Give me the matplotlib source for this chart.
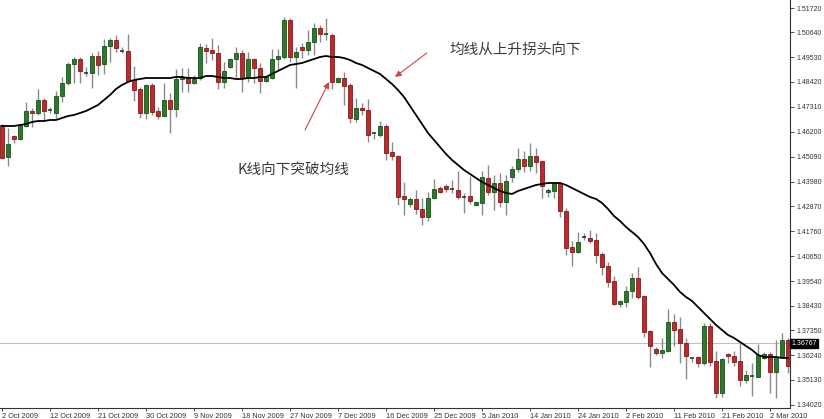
import numpy as np
import matplotlib
matplotlib.use("Agg")
import matplotlib.pyplot as plt

plt.rcParams['font.family'] = ['Liberation Sans', 'DejaVu Sans']

# daily EURUSD candles, 2 Oct 2009 - early Mar 2010
opens = [1.46502, 1.45075, 1.46011, 1.45878, 1.46457, 1.47126, 1.47037, 1.47617, 1.47182, 1.47037,
         1.47795, 1.48375, 1.49223, 1.49446, 1.48830, 1.48821, 1.49579, 1.49223, 1.50025, 1.50293,
         1.49810, 1.49802, 1.48509, 1.48108, 1.47037, 1.48286, 1.47126, 1.46903, 1.47617, 1.47216,
         1.48554, 1.48643, 1.48375, 1.48598, 1.49936, 1.49847, 1.49713, 1.48420, 1.49089, 1.49446,
         1.49713, 1.48643, 1.49446, 1.49044, 1.48464, 1.48598, 1.49446, 1.49535, 1.51185, 1.49535,
         1.49981, 1.49847, 1.50204, 1.50828, 1.50570, 1.50516, 1.48420, 1.48598, 1.48286, 1.46770,
         1.47260, 1.47171, 1.46150, 1.46056, 1.46457, 1.45298, 1.45119, 1.43335, 1.42979, 1.43202,
         1.42756, 1.42399, 1.43246, 1.43692, 1.43781, 1.43650, 1.43603, 1.43295, 1.43335, 1.42934,
         1.43023, 1.44138, 1.43514, 1.43915, 1.43068, 1.44183, 1.44540, 1.44986, 1.44673, 1.45119,
         1.44896, 1.43514, 1.43558, 1.43915, 1.42666, 1.41061, 1.40838, 1.41510, 1.41462, 1.41373,
         1.40749, 1.40213, 1.39545, 1.38519, 1.38608, 1.39099, 1.39678, 1.38876, 1.37315, 1.36512,
         1.36333, 1.36423, 1.37716, 1.37404, 1.36779, 1.36115, 1.36155, 1.35887, 1.37537, 1.35976,
         1.34549, 1.36289, 1.36199, 1.35976, 1.35129, 1.35312, 1.35263, 1.36110, 1.36289, 1.35486,
         1.36155, 1.36913]
highs = [1.46547, 1.46368, 1.46056, 1.46547, 1.47528, 1.47260, 1.48108, 1.47706, 1.47305, 1.48018,
         1.48643, 1.49312, 1.49535, 1.49535, 1.49089, 1.49713, 1.49802, 1.50338, 1.50382, 1.50516,
         1.49981, 1.50561, 1.49133, 1.48197, 1.48331, 1.48375, 1.47305, 1.48375, 1.47929, 1.49000,
         1.49044, 1.49044, 1.48732, 1.50159, 1.50115, 1.50382, 1.50070, 1.49312, 1.49490, 1.49981,
         1.49847, 1.49758, 1.49490, 1.49267, 1.48687, 1.49892, 1.49892, 1.51319, 1.51274, 1.49981,
         1.50159, 1.50739, 1.51051, 1.50962, 1.51274, 1.50605, 1.48643, 1.48866, 1.48375, 1.47706,
         1.47483, 1.47662, 1.46190, 1.46680, 1.46547, 1.45744, 1.45164, 1.43960, 1.43291, 1.43603,
         1.43246, 1.43514, 1.44094, 1.43781, 1.43871, 1.44049, 1.44451, 1.43469, 1.44227, 1.43112,
         1.44451, 1.44718, 1.44272, 1.44361, 1.44272, 1.44673, 1.45476, 1.45343, 1.45699, 1.45476,
         1.44941, 1.43692, 1.43960, 1.43960, 1.42800, 1.41328, 1.41730, 1.41685, 1.41819, 1.41685,
         1.40838, 1.40392, 1.39767, 1.38697, 1.39321, 1.39901, 1.40169, 1.38920, 1.37359, 1.36601,
         1.37003, 1.38296, 1.38073, 1.37939, 1.37003, 1.36155, 1.36199, 1.37671, 1.37671, 1.36423,
         1.36110, 1.36333, 1.36423, 1.36779, 1.35575, 1.35887, 1.36735, 1.36378, 1.36378, 1.36913,
         1.37226, 1.37003]
lows = [1.44986, 1.44673, 1.45699, 1.45833, 1.46413, 1.46413, 1.46948, 1.46725, 1.47037, 1.46814,
        1.47528, 1.48286, 1.48375, 1.48375, 1.48687, 1.48152, 1.48732, 1.48777, 1.49312, 1.49758,
        1.49713, 1.48420, 1.47572, 1.46814, 1.46770, 1.46948, 1.46770, 1.46859, 1.46145, 1.46859,
        1.47974, 1.47974, 1.48331, 1.48509, 1.49267, 1.49401, 1.48108, 1.48152, 1.49044, 1.48643,
        1.47974, 1.48420, 1.48375, 1.47929, 1.48420, 1.48554, 1.48955, 1.49446, 1.49312, 1.48152,
        1.49490, 1.49624, 1.49624, 1.50204, 1.50293, 1.48108, 1.48375, 1.47394, 1.46591, 1.46636,
        1.46948, 1.45744, 1.45878, 1.45967, 1.44941, 1.44941, 1.42934, 1.42488, 1.42845, 1.42533,
        1.42042, 1.42220, 1.43202, 1.43469, 1.43514, 1.43469, 1.43202, 1.42577, 1.42979, 1.42890,
        1.42488, 1.43380, 1.42711, 1.42845, 1.42488, 1.43960, 1.44406, 1.44406, 1.44451, 1.44361,
        1.43246, 1.43291, 1.43246, 1.42399, 1.40704, 1.40213, 1.40793, 1.41373, 1.41239, 1.40347,
        1.39812, 1.39277, 1.38474, 1.38385, 1.38385, 1.38786, 1.38742, 1.37047, 1.35709, 1.36244,
        1.36110, 1.36378, 1.36646, 1.35887, 1.35174, 1.35932, 1.35709, 1.35798, 1.35753, 1.34326,
        1.34371, 1.35887, 1.35753, 1.34861, 1.34995, 1.34415, 1.35263, 1.36066, 1.34549, 1.34326,
        1.36110, 1.35441]
closes = [1.45030, 1.45655, 1.45878, 1.46502, 1.47126, 1.47037, 1.47617, 1.47126, 1.47171, 1.47795,
          1.48375, 1.49223, 1.49446, 1.48911, 1.48821, 1.49579, 1.49178, 1.50025, 1.50293, 1.49936,
          1.49802, 1.48464, 1.48063, 1.47037, 1.48286, 1.47082, 1.46903, 1.47617, 1.47216, 1.48554,
          1.48643, 1.48375, 1.48554, 1.49981, 1.49802, 1.49713, 1.48420, 1.48911, 1.49446, 1.49713,
          1.48643, 1.49446, 1.49044, 1.48464, 1.48643, 1.49446, 1.49579, 1.51185, 1.49535, 1.49758,
          1.49847, 1.50204, 1.50828, 1.50561, 1.50561, 1.48420, 1.48598, 1.48241, 1.46814, 1.47260,
          1.47171, 1.46056, 1.46145, 1.46457, 1.45253, 1.45119, 1.43291, 1.43202, 1.43202, 1.42756,
          1.42399, 1.43246, 1.43648, 1.43514, 1.43648, 1.43648, 1.43291, 1.43291, 1.43112, 1.43068,
          1.44183, 1.43514, 1.43915, 1.43068, 1.44004, 1.44540, 1.44986, 1.44673, 1.45119, 1.44852,
          1.43781, 1.43603, 1.43915, 1.42666, 1.41016, 1.40838, 1.41284, 1.41507, 1.41328, 1.40704,
          1.40169, 1.39500, 1.38519, 1.38652, 1.39099, 1.39678, 1.38831, 1.37270, 1.36646, 1.36333,
          1.36467, 1.37716, 1.37359, 1.36779, 1.36199, 1.36110, 1.35887, 1.37537, 1.35932, 1.34549,
          1.36066, 1.36199, 1.35932, 1.35129, 1.35352, 1.35307, 1.36244, 1.36289, 1.35486, 1.36155,
          1.36913, 1.35753]
# moving average line as drawn on the chart
ma = [1.46457, 1.46457, 1.46457, 1.46502, 1.46547, 1.46636, 1.46680, 1.46680, 1.46725, 1.46725,
      1.46814, 1.46903, 1.46948, 1.47037, 1.47126, 1.47260, 1.47394, 1.47617, 1.47840, 1.48108,
      1.48286, 1.48420, 1.48509, 1.48554, 1.48598, 1.48598, 1.48598, 1.48598, 1.48598, 1.48643,
      1.48643, 1.48598, 1.48598, 1.48598, 1.48687, 1.48687, 1.48643, 1.48598, 1.48598, 1.48554,
      1.48554, 1.48598, 1.48598, 1.48643, 1.48643, 1.48777, 1.48911, 1.49044, 1.49178, 1.49223,
      1.49267, 1.49356, 1.49446, 1.49535, 1.49579, 1.49535, 1.49535, 1.49490, 1.49401, 1.49267,
      1.49178, 1.49044, 1.48911, 1.48777, 1.48554, 1.48331, 1.48063, 1.47751, 1.47349, 1.46948,
      1.46547, 1.46145, 1.45833, 1.45521, 1.45209, 1.44941, 1.44718, 1.44495, 1.44317, 1.44138,
      1.43960, 1.43826, 1.43692, 1.43558, 1.43469, 1.43425, 1.43558, 1.43648, 1.43737, 1.43826,
      1.43871, 1.43915, 1.43915, 1.43915, 1.43826, 1.43692, 1.43558, 1.43425, 1.43291, 1.43202,
      1.43023, 1.42756, 1.42443, 1.42220, 1.41953, 1.41730, 1.41507, 1.41195, 1.40793, 1.40303,
      1.39901, 1.39634, 1.39367, 1.39054, 1.38831, 1.38652, 1.38385, 1.38117, 1.37850, 1.37582,
      1.37359, 1.37136, 1.37003, 1.36824, 1.36646, 1.36467, 1.36244, 1.36155, 1.36155, 1.36155,
      1.36110, 1.36110]

date_labels = ["2 Oct 2009", "12 Oct 2009", "21 Oct 2009", "30 Oct 2009", "9 Nov 2009",
               "18 Nov 2009", "27 Nov 2009", "7 Dec 2009", "16 Dec 2009", "25 Dec 2009",
               "5 Jan 2010", "14 Jan 2010", "24 Jan 2010", "2 Feb 2010", "11 Feb 2010",
               "21 Feb 2010", "2 Mar 2010"]
price_ticks = [1.51720, 1.50640, 1.49530, 1.48420, 1.47310, 1.46200, 1.45090, 1.43980, 1.42870,
               1.41760, 1.40650, 1.39540, 1.38430, 1.37350, 1.36240, 1.35130, 1.34020]
last_price = 1.36767

o = np.array(opens)
h = np.array(highs)
l = np.array(lows)
c = np.array(closes)
x = np.arange(len(o))

fig = plt.figure(figsize=(8.24, 4.19), dpi=100)
ax = fig.add_axes([0.0, 0.0263, 790 / 824, 1 - 0.0263])

up_col, up_edge = '#2a7a2a', '#1c4f1c'
dn_col, dn_edge = '#c4262c', '#7c1c1c'

# wicks
ax.vlines(x, l, h, color='#8a8a8a', linewidth=1.0, zorder=2)

# bodies
for i in range(len(x)):
    lo_b = min(o[i], c[i])
    hi_b = max(o[i], c[i])
    if hi_b - lo_b < 0.0002:
        ax.hlines(c[i], x[i] - 0.33, x[i] + 0.33, color='#333333', linewidth=1.2, zorder=3)
        continue
    if c[i] >= o[i]:
        fc, ec = up_col, up_edge
    else:
        fc, ec = dn_col, dn_edge
    ax.bar(x[i], hi_b - lo_b, bottom=lo_b, width=0.66, color=fc, edgecolor=ec,
           linewidth=0.6, zorder=3)

# moving average
ax.plot(x, ma, color='black', linewidth=1.3, zorder=4)

# bid line
ax.axhline(last_price, color='#c0c0c0', linewidth=0.8, zorder=1)

ax.set_xlim(-0.33, 131.33)
ax.set_ylim(1.33880, 1.52077)

# axes look like MT4
for s in ['left', 'top']:
    ax.spines[s].set_visible(False)
ax.spines['right'].set_color('#333333')
ax.spines['bottom'].set_color('#333333')

ax.yaxis.tick_right()
ax.set_yticks(price_ticks)
ax.set_yticklabels([f"{v:.5f}" for v in price_ticks])
ax.tick_params(axis='y', direction='out', length=3, width=0.6, pad=2,
               labelsize=5, colors='#333333')

ax.set_xticks(np.arange(len(date_labels)) * 8)
ax.set_xticklabels(date_labels)
ax.tick_params(axis='x', direction='out', length=2.5, width=0.6, pad=1,
               labelsize=5.3, colors='#333333')
for lbl in ax.get_xticklabels():
    lbl.set_horizontalalignment('left')

# current price box
ax.text(1.0015, last_price, f"{last_price:.5f}", transform=ax.get_yaxis_transform(),
        ha='left', va='center', fontsize=5, color='white', zorder=6,
        bbox=dict(boxstyle='square,pad=0.15', fc='black', ec='black'), clip_on=False)

# annotations
cjk = ['Noto Sans CJK SC', 'DejaVu Sans']
ax.text(74.6, 1.49847, "均线从上升拐头向下", family=cjk, fontsize=10.5,
        color='#3a3a3a', va='center', ha='left')
ax.text(39.2, 1.44495, "K线向下突破均线", family=cjk, fontsize=10.5,
        color='#3a3a3a', va='center', ha='left')
ax.annotate("", xy=(65.5, 1.48643), xytext=(70.8, 1.49713),
            arrowprops=dict(arrowstyle='-|>', color='#d04545', lw=0.8,
                            mutation_scale=9, shrinkA=0, shrinkB=0))
ax.annotate("", xy=(54.5, 1.48420), xytext=(50.5, 1.46279),
            arrowprops=dict(arrowstyle='-|>', color='#d04545', lw=0.8,
                            mutation_scale=9, shrinkA=0, shrinkB=0))

fig.savefig('out.png', dpi=100)
